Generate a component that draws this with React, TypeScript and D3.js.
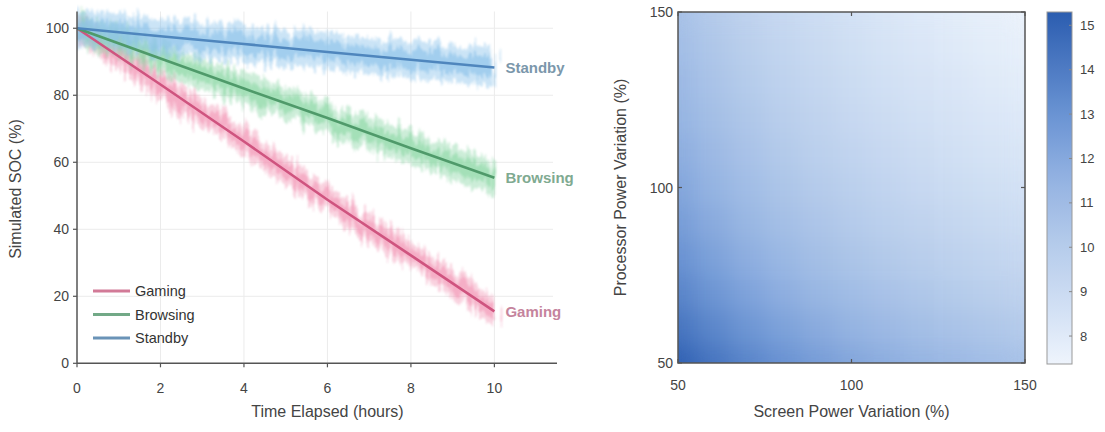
import React from 'react';
import * as d3 from 'd3';

// ---------- Left panel data ----------
const timeHours = [0, 2, 4, 6, 8, 10];
const gamingSOC = [100, 83.2, 66.2, 48.8, 32.2, 15.5];
const browsingSOC = [100, 91, 82, 73.2, 64.2, 55.4];
const standbySOC = [100, 97.6, 95.3, 92.9, 90.6, 88.3];
const seriesNames = ['Gaming', 'Browsing', 'Standby'];
const bandHalfWidth = [4, 4.5, 5];
const socXTicks = [0, 2, 4, 6, 8, 10];
const socYTicks = [0, 20, 40, 60, 80, 100];

// ---------- Right panel data ----------
const screenLevels = [50, 60, 70, 80, 90, 100, 110, 120, 130, 140, 150];
const processorLevels = [50, 60, 70, 80, 90, 100, 110, 120, 130, 140, 150];
// rows: processor level (ascending), columns: screen level (ascending); runtime in hours
const runtimeGrid = [
  [15.2, 14.33, 13.64, 13.07, 12.58, 12.16, 11.79, 11.47, 11.18, 10.91, 10.67],
  [14.33, 13.52, 12.86, 12.32, 11.86, 11.47, 11.12, 10.81, 10.54, 10.29, 10.06],
  [13.64, 12.86, 12.24, 11.72, 11.29, 10.91, 10.58, 10.29, 10.03, 9.79, 9.57],
  [13.07, 12.32, 11.72, 11.23, 10.81, 10.45, 10.14, 9.86, 9.61, 9.38, 9.17],
  [12.58, 11.86, 11.29, 10.81, 10.41, 10.06, 9.76, 9.49, 9.25, 9.03, 8.83],
  [12.16, 11.47, 10.91, 10.45, 10.06, 9.73, 9.43, 9.17, 8.94, 8.73, 8.54],
  [11.79, 11.12, 10.58, 10.14, 9.76, 9.43, 9.15, 8.9, 8.67, 8.46, 8.28],
  [11.47, 10.81, 10.29, 9.86, 9.49, 9.17, 8.9, 8.65, 8.43, 8.23, 8.05],
  [11.18, 10.54, 10.03, 9.61, 9.25, 8.94, 8.67, 8.43, 8.22, 8.02, 7.84],
  [10.91, 10.29, 9.79, 9.38, 9.03, 8.73, 8.46, 8.23, 8.02, 7.83, 7.66],
  [10.67, 10.06, 9.57, 9.17, 8.83, 8.54, 8.28, 8.05, 7.84, 7.66, 7.49],
];
const heatTicks = [50, 100, 150];
const colorbarTicks = [8, 9, 10, 11, 12, 13, 14, 15];
const colorStopValues = [7.37, 8.5, 10, 11.5, 13, 15.3];
const colorStopColors = ['#eef4fc', '#d4e2f5', '#b6cceb', '#94b3e2', '#6a93d3', '#2b5db0'];

const FONT = '"Liberation Sans", Arial, Helvetica, sans-serif';

const lineColors = ['#cf547f', '#4f9a6a', '#4f86bd'];
const bandColors = ['#f29bb8', '#8fd8a8', '#8cc3ea'];
const legendColors = ['#d27a97', '#72a987', '#6a93b7'];
const endLabelColors = ['#c5849d', '#7faa91', '#7b97ab'];

export default function App() {
  // left scales
  const x = d3.scaleLinear().domain([0, 11.5]).range([77, 557]);
  const y = d3.scaleLinear().domain([0, 105]).range([363.3, 11.5]);
  const series = [gamingSOC, browsingSOC, standbySOC];

  const line = d3
    .line<number>()
    .x((_, i) => x(timeHours[i]))
    .y((d) => y(d));

  const bandArea = (vals: number[], w: number) =>
    d3
      .area<number>()
      .x((_, i) => x(timeHours[i]))
      .y0((d) => y(d - w))
      .y1((d) => y(d + w))(vals) as string;

  // right scales
  const hx = d3.scaleLinear().domain([50, 150]).range([678, 1025]);
  const hy = d3.scaleLinear().domain([50, 150]).range([363, 12]);
  const color = d3
    .scaleLinear<string>()
    .domain(colorStopValues)
    .range(colorStopColors)
    .interpolate(d3.interpolateRgb)
    .clamp(true);
  const cbY = d3.scaleLinear().domain([7.37, 15.3]).range([364, 12]);
  const cbStops = d3.range(0, 1.0001, 0.05).map((t) => {
    const v = 7.37 + t * (15.3 - 7.37);
    return { off: t, c: color(v) };
  });

  const xRight = x.range()[1];

  return (
    <svg
      width={1105}
      height={432}
      style={{ position: 'absolute', left: 0, top: 0, background: '#fff' }}
      fontFamily={FONT}
    >
      <defs>
        {seriesNames.map((n, i) => (
          <filter
            key={n}
            id={`noise${i}`}
            x="-5%"
            y="-40%"
            width="110%"
            height="180%"
            colorInterpolationFilters="sRGB"
          >
            <feTurbulence
              type="fractalNoise"
              baseFrequency="0.3 0.012"
              numOctaves={3}
              seed={i * 7 + 3}
              result="t"
            />
            <feDisplacementMap
              in="SourceGraphic"
              in2="t"
              scale={26}
              xChannelSelector="R"
              yChannelSelector="G"
              result="d"
            />
            <feGaussianBlur in="d" stdDeviation={0.9} />
          </filter>
        ))}
        <filter
          id="heatBlur"
          filterUnits="userSpaceOnUse"
          x={660}
          y={0}
          width={380}
          height={380}
          colorInterpolationFilters="sRGB"
        >
          <feGaussianBlur stdDeviation={11} result="b" />
          <feComponentTransfer>
            <feFuncA type="linear" slope={60} intercept={0} />
          </feComponentTransfer>
        </filter>
        <clipPath id="heatClip">
          <rect x={hx(50)} y={hy(150)} width={hx(150) - hx(50)} height={hy(50) - hy(150)} />
        </clipPath>
        <clipPath id="plotClip">
          <rect x={x(0)} y={0} width={xRight - x(0)} height={y(0)} />
        </clipPath>
        <linearGradient id="cbGrad" x1="0" y1="1" x2="0" y2="0">
          {cbStops.map((s, i) => (
            <stop key={i} offset={s.off} stopColor={s.c} />
          ))}
        </linearGradient>
      </defs>

      {/* ---------------- LEFT PANEL ---------------- */}
      <g>
        {socXTicks.slice(1).map((t) => (
          <line key={'gx' + t} x1={x(t)} x2={x(t)} y1={y(105)} y2={y(0)} stroke="#ebebeb" strokeWidth={1} />
        ))}
        {socYTicks.slice(1).map((t) => (
          <line key={'gy' + t} x1={x(0)} x2={xRight - 4} y1={y(t)} y2={y(t)} stroke="#ebebeb" strokeWidth={1} />
        ))}

        <g clipPath="url(#plotClip)">
          {series.map((vals, i) => (
            <g key={'band' + i} filter={`url(#noise${i})`}>
              <path d={bandArea(vals, bandHalfWidth[i] * 1.1)} fill={bandColors[i]} opacity={0.45} />
              <path d={bandArea(vals, bandHalfWidth[i] * 0.55)} fill={bandColors[i]} opacity={0.65} />
            </g>
          ))}
          {series.map((vals, i) => (
            <path key={'ln' + i} d={line(vals) as string} fill="none" stroke={lineColors[i]} strokeWidth={2.6} />
          ))}
        </g>

        <line x1={x(0)} x2={x(0)} y1={y(105)} y2={y(0)} stroke="#555" strokeWidth={1.5} />
        <line x1={x(0)} x2={xRight} y1={y(0)} y2={y(0)} stroke="#555" strokeWidth={1.5} />
        {socYTicks.map((t) => (
          <g key={'yt' + t}>
            <line x1={x(0) - 4} x2={x(0)} y1={y(t)} y2={y(t)} stroke="#555" strokeWidth={1.2} />
            <text x={x(0) - 8} y={y(t)} textAnchor="end" dominantBaseline="central" fontSize={14} fill="#444">
              {t}
            </text>
          </g>
        ))}
        {socXTicks.map((t) => (
          <g key={'xt' + t}>
            <line x1={x(t)} x2={x(t)} y1={y(0)} y2={y(0) + 4} stroke="#555" strokeWidth={1.2} />
            <text x={x(t)} y={388} textAnchor="middle" dominantBaseline="central" fontSize={14} fill="#444">
              {t}
            </text>
          </g>
        ))}
        <text
          transform={`translate(15,${y(52)}) rotate(-90)`}
          textAnchor="middle"
          dominantBaseline="central"
          fontSize={16}
          fill="#444"
        >
          Simulated SOC (%)
        </text>
        <text x={x(6)} y={411} textAnchor="middle" dominantBaseline="central" fontSize={16} fill="#444">
          Time Elapsed (hours)
        </text>

        {series.map((vals, i) => (
          <text
            key={'el' + i}
            x={x(10) + 11}
            y={y(vals[vals.length - 1])}
            dominantBaseline="central"
            fontSize={15}
            fontWeight="bold"
            fill={endLabelColors[i]}
          >
            {seriesNames[i]}
          </text>
        ))}

        {seriesNames.map((n, i) => (
          <g key={'lg' + n} transform={`translate(0,${291 + i * 23.5})`}>
            <line x1={93} x2={130} y1={0} y2={0} stroke={legendColors[i]} strokeWidth={3} />
            <text x={135} y={0} dominantBaseline="central" fontSize={14.5} fill="#333">
              {n}
            </text>
          </g>
        ))}
      </g>

      {/* ---------------- RIGHT PANEL ---------------- */}
      <g clipPath="url(#heatClip)">
        <g filter="url(#heatBlur)">
          {processorLevels.map((p, r) =>
            screenLevels.map((s, c) => {
              const x0 = hx(Math.max(50, s - 5));
              const x1 = hx(Math.min(150, s + 5));
              const y0 = hy(Math.min(150, p + 5));
              const y1 = hy(Math.max(50, p - 5));
              return (
                <rect
                  key={`c${r}-${c}`}
                  x={x0}
                  y={y0}
                  width={x1 - x0 + 0.5}
                  height={y1 - y0 + 0.5}
                  fill={color(runtimeGrid[r][c])}
                />
              );
            })
          )}
        </g>
      </g>
      <rect
        x={hx(50)}
        y={hy(150)}
        width={hx(150) - hx(50)}
        height={hy(50) - hy(150)}
        fill="none"
        stroke="#555"
        strokeWidth={1.5}
      />
      {heatTicks.map((t) => (
        <g key={'hxt' + t}>
          <line x1={hx(t)} x2={hx(t)} y1={hy(50)} y2={hy(50) - 4} stroke="#555" strokeWidth={1.2} />
          <line x1={hx(t)} x2={hx(t)} y1={hy(150)} y2={hy(150) + 4} stroke="#555" strokeWidth={1.2} />
          <text x={hx(t)} y={385} textAnchor="middle" dominantBaseline="central" fontSize={14} fill="#444">
            {t}
          </text>
        </g>
      ))}
      {heatTicks.map((t) => (
        <g key={'hyt' + t}>
          <line x1={hx(50)} x2={hx(50) + 4} y1={hy(t)} y2={hy(t)} stroke="#555" strokeWidth={1.2} />
          <line x1={hx(150)} x2={hx(150) - 4} y1={hy(t)} y2={hy(t)} stroke="#555" strokeWidth={1.2} />
          <text x={hx(50) - 5} y={hy(t)} textAnchor="end" dominantBaseline="central" fontSize={14} fill="#444">
            {t}
          </text>
        </g>
      ))}
      <text
        transform={`translate(620,${hy(100)}) rotate(-90)`}
        textAnchor="middle"
        dominantBaseline="central"
        fontSize={16}
        fill="#444"
      >
        Processor Power Variation (%)
      </text>
      <text x={hx(100)} y={411} textAnchor="middle" dominantBaseline="central" fontSize={16} fill="#444">
        Screen Power Variation (%)
      </text>

      <rect x={1047} y={cbY(15.3)} width={25} height={cbY(7.37) - cbY(15.3)} fill="url(#cbGrad)" stroke="#999" strokeWidth={1} />
      {colorbarTicks.map((t) => (
        <g key={'cb' + t}>
          <line x1={1069} x2={1072} y1={cbY(t)} y2={cbY(t)} stroke="#888" strokeWidth={1} />
          <text x={1080} y={cbY(t)} dominantBaseline="central" fontSize={13} fill="#444">
            {t}
          </text>
        </g>
      ))}
    </svg>
  );
}
